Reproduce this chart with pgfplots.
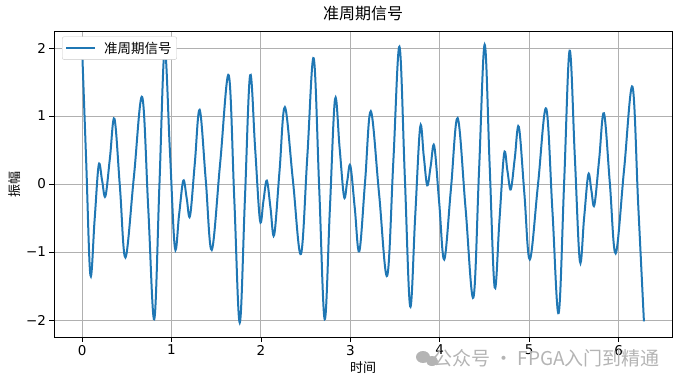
\documentclass[border=0pt]{standalone}
\usepackage{fontspec}
\setmainfont{DejaVu Sans}
\newfontfamily\cjk{Noto Sans CJK SC}
\usepackage{pgfplots}
\pgfplotsset{compat=1.18}
\definecolor{mplblue}{HTML}{1F77B4}
\definecolor{gridgray}{HTML}{B0B0B0}
\definecolor{wmgray}{HTML}{B4B4B4}
\begin{document}
\begin{tikzpicture}
\useasboundingbox (-54pt,-47pt) rectangle (640pt,337pt);
\begin{axis}[
  scale only axis, width=618pt, height=306pt,
  xmin=-0.314, xmax=6.597, ymin=-2.25, ymax=2.25,
  xtick={0,...,6}, ytick={-2,...,2}, yticklabels={−2,−1,0,1,2},
  xticklabels={0,1,2,3,4,5,6},
  tick align=outside, tick pos=left, major tick length=4.5pt,
  tick style={black, line width=0.8pt},
  grid=major, grid style={gridgray, line width=0.9pt},
  axis line style={line width=0.9pt},
  ticklabel style={font=\fontsize{13.5}{15}\selectfont},
  title={\cjk 准周期信号},
  title style={font=\fontsize{16}{18}\selectfont, at={(axis description cs:0.5,1.038)}, anchor=center},
  xlabel={\cjk 时间}, ylabel={\cjk 振幅},
  xlabel style={font=\fontsize{13}{15}\selectfont, at={(axis description cs:0.5,-0.101)}, anchor=center},
  ylabel style={font=\fontsize{13}{15}\selectfont, at={(axis description cs:-0.063,0.5)}, anchor=center},
  legend style={at={(axis description cs:0.013,0.982)}, anchor=north west, draw=gridgray!70, rounded corners=2pt,
    fill=white, font=\fontsize{13.5}{15}\selectfont\cjk, inner xsep=3pt, inner ysep=3pt},
  legend image code/.code={\draw[#1] (0pt,0pt) -- (29pt,0pt);},
]
\addplot[mplblue, line width=2pt, smooth, tension=0.6] coordinates {
(0,2.00) (0.046,0.33) (0.093,-1.34) (0.140,-0.53) (0.186,0.28) (0.224,0.05)
(0.261,-0.18) (0.312,0.39) (0.362,0.96) (0.424,-0.06) (0.485,-1.08) (0.579,0.10)
(0.672,1.28) (0.740,-0.36) (0.807,-1.99) (0.865,-0.01) (0.923,1.97) (0.981,0.52)
(1.038,-0.94) (1.085,-0.45) (1.132,0.05) (1.170,-0.21) (1.207,-0.47) (1.261,0.31)
(1.315,1.09) (1.383,0.06) (1.45,-0.97) (1.545,0.32) (1.64,1.60) (1.702,-0.22)
(1.763,-2.04) (1.821,-0.22) (1.879,1.60) (1.935,0.53) (1.99,-0.54) (2.028,-0.25)
(2.066,0.05) (2.107,-0.35) (2.148,-0.75) (2.208,0.19) (2.268,1.13) (2.358,0.05)
(2.447,-1.03) (2.519,0.41) (2.59,1.85) (2.652,-0.07) (2.713,-1.99) (2.771,-0.37)
(2.829,1.25) (2.880,0.53) (2.93,-0.19) (2.965,0.04) (3.0,0.27) (3.05,-0.36)
(3.10,-0.99) (3.165,0.04) (3.229,1.07) (3.321,-0.14) (3.412,-1.35) (3.481,0.34)
(3.549,2.02) (3.609,0.11) (3.669,-1.80) (3.725,-0.48) (3.781,0.84) (3.821,0.41)
(3.86,-0.02) (3.899,0.27) (3.938,0.56) (3.994,-0.28) (4.05,-1.11) (4.125,-0.07)
(4.2,0.97) (4.288,-0.35) (4.376,-1.67) (4.439,0.19) (4.502,2.05) (4.558,0.27)
(4.614,-1.52) (4.667,-0.54) (4.72,0.45) (4.757,0.19) (4.794,-0.08) (4.839,0.38)
(4.884,0.84) (4.946,-0.14) (5.007,-1.11) (5.099,0.00) (5.19,1.11) (5.260,-0.40)
(5.329,-1.90) (5.391,0.03) (5.452,1.96) (5.510,0.41) (5.567,-1.14) (5.614,-0.50)
(5.661,0.14) (5.695,-0.09) (5.729,-0.31) (5.783,0.37) (5.836,1.04) (5.902,0.01)
(5.967,-1.02) (6.061,0.21) (6.155,1.43) (6.219,-0.30) (6.283,-2.02)
};
\addlegendentry{\hspace{6pt}准周期信号\hspace{2pt}}
\end{axis}
\fill[wmgray] (369pt,-20pt) ellipse (7pt and 6pt);
\fill[wmgray] (378pt,-24pt) ellipse (6pt and 5pt);
\node[anchor=east, text=wmgray, font=\fontsize{19}{21}\selectfont, inner sep=0pt] at (606pt,-21pt) {\cjk 公众号 · FPGA入门到精通};
\end{tikzpicture}
\end{document}
